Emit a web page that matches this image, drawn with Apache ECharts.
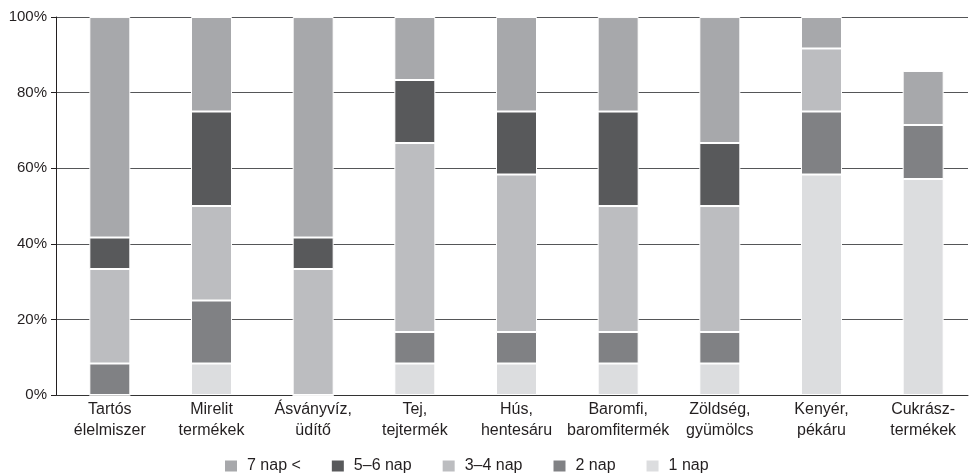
<!DOCTYPE html>
<html>
<head>
<meta charset="utf-8">
<script src="https://cdn.jsdelivr.net/npm/echarts@6/dist/echarts.min.js"></script>
<style>
  html, body { margin: 0; padding: 0; background: #fff; }
  #chart { width: 974px; height: 475px; }
</style>
</head>
<body>
<div id="chart"></div>
<script>
// Product groups (x axis)
const categories = [
  'Tartós\nélelmiszer', 'Mirelit\ntermékek', 'Ásványvíz,\nüdítő', 'Tej,\ntejtermék',
  'Hús,\nhentesáru', 'Baromfi,\nbaromfitermék', 'Zöldség,\ngyümölcs', 'Kenyér,\npékáru',
  'Cukrász-\ntermékek'
];

// Share of answers per storage period, in percent
const nap1  = [0,     8.33,  0,     8.33,  8.33,  8.33,  8.33,  58.33, 57.14];
const nap2  = [8.33,  16.67, 0,     8.33,  8.33,  8.33,  8.33,  16.67, 14.29];
const nap34 = [25,    25,    33.33, 50,    41.67, 33.33, 33.33, 16.67, 0];
const nap56 = [8.33,  25,    8.33,  16.67, 16.67, 25,    16.67, 0,     0];
const nap7  = [58.33, 25,    58.33, 16.67, 25,    25,    33.33, 8.33,  14.29];

const seriesNames = ['1 nap', '2 nap', '3–4 nap', '5–6 nap', '7 nap <'];
const legendOrder = ['7 nap <', '5–6 nap', '3–4 nap', '2 nap', '1 nap'];
const yTicks = [0, 20, 40, 60, 80, 100];

const colors = {
  '1 nap': '#dcdddf',
  '2 nap': '#808184',
  '3–4 nap': '#bcbdc0',
  '5–6 nap': '#58595b',
  '7 nap <': '#a7a8ab'
};

const FONT = "'Liberation Sans', Arial, sans-serif";
const values = [nap1, nap2, nap34, nap56, nap7];

const chart = echarts.init(document.getElementById('chart'), null, { renderer: 'canvas' });

chart.setOption({
  animation: false,
  backgroundColor: '#ffffff',
  textStyle: { fontFamily: FONT },
  grid: [
    // frame: percentage axis and horizontal grid lines
    { left: 56, right: 6, top: 17, bottom: 80 },
    // bars and category labels
    { left: 59, right: -14, top: 17, bottom: 80 }
  ],
  legend: {
    data: legendOrder,
    left: 223,
    top: 458,
    padding: 0,
    itemWidth: 14,
    itemHeight: 13,
    itemGap: 29,
    icon: 'rect',
    textStyle: { fontFamily: FONT, fontSize: 16, color: '#231f20', padding: [0, 0, 0, 4] }
  },
  xAxis: [
    {
      gridIndex: 0, type: 'value', min: 0, max: 1,
      axisLine: { show: true, onZero: false, lineStyle: { color: '#333', width: 1 } },
      axisTick: { show: false }, axisLabel: { show: false }, splitLine: { show: false }
    },
    {
      gridIndex: 1, type: 'category', data: categories,
      axisLine: { show: false }, axisTick: { show: false }, splitLine: { show: false },
      axisLabel: {
        margin: 4, fontSize: 16, lineHeight: 21, color: '#231f20', fontFamily: FONT,
        interval: 0
      }
    }
  ],
  yAxis: [
    {
      gridIndex: 0, type: 'value', min: yTicks[0], max: yTicks[yTicks.length - 1], interval: 20,
      axisLine: { show: true, lineStyle: { color: '#231f20', width: 1 } },
      axisTick: { show: true, inside: false, length: 5, lineStyle: { color: '#231f20' } },
      axisLabel: { formatter: '{value}%', fontSize: 15, color: '#231f20', margin: 9, fontFamily: FONT },
      splitLine: { show: true, lineStyle: { color: '#555658', width: 1 } }
    },
    {
      gridIndex: 1, type: 'value', min: 0, max: 100, show: false,
      splitLine: { show: false }
    }
  ],
  series: seriesNames.map((name, i) => ({
    name: name,
    type: 'bar',
    stack: 'total',
    xAxisIndex: 1,
    yAxisIndex: 1,
    barWidth: 41,
    z: 3,
    itemStyle: { color: colors[name], borderColor: '#ffffff', borderWidth: 1 },
    emphasis: { disabled: true },
    data: values[i]
  }))
});
</script>
</body>
</html>
